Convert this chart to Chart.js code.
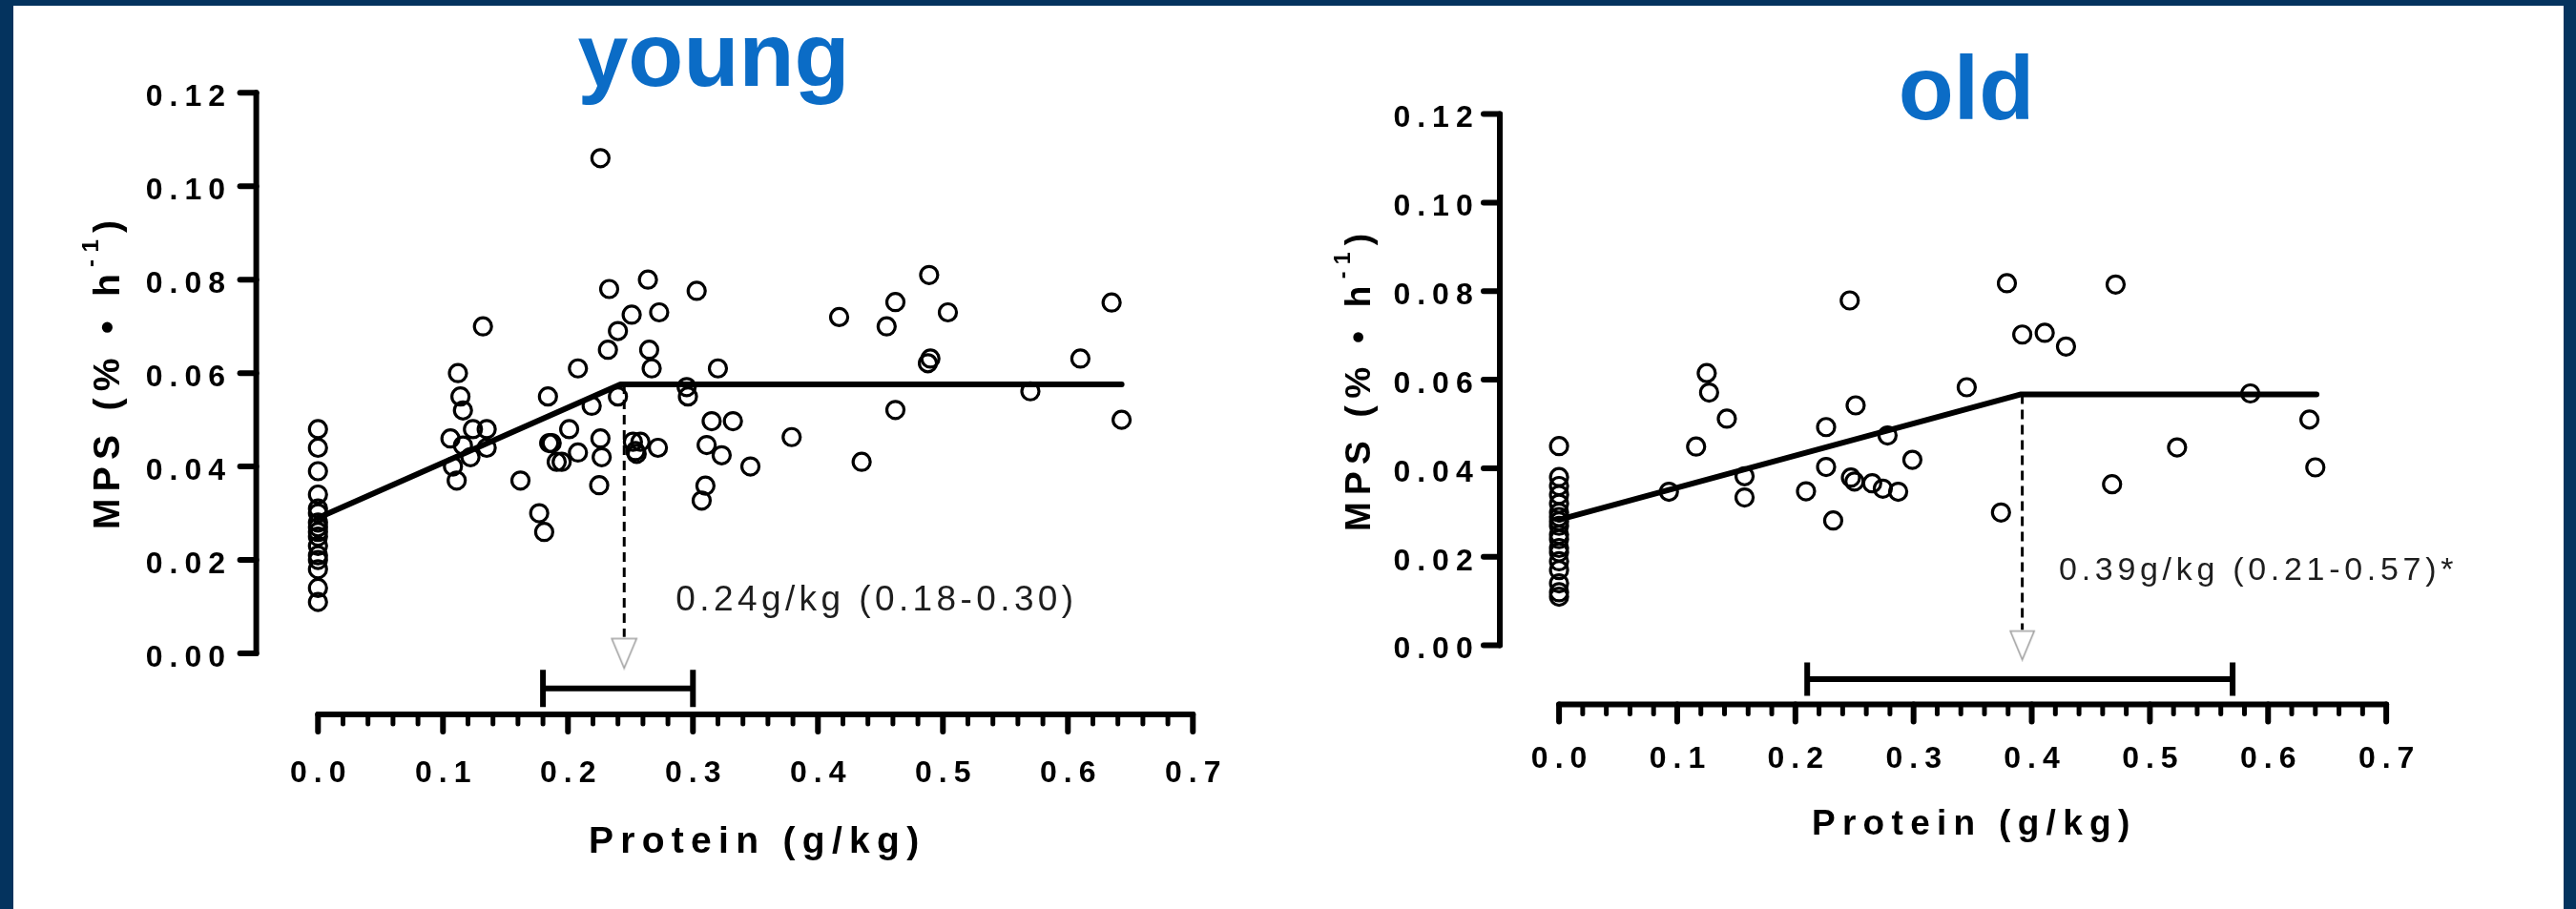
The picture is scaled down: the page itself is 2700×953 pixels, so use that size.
<!DOCTYPE html>
<html><head><meta charset="utf-8">
<script src="https://cdn.jsdelivr.net/npm/chart.js@4.4.1/dist/chart.umd.min.js"></script>
<style>
html,body{margin:0;padding:0;background:#fff;}
body{width:2700px;height:953px;position:relative;overflow:hidden;}
.frame{position:absolute;background:#04335e;}
canvas{position:absolute;top:0;}
</style></head><body>
<div class="frame" style="left:0;top:0;width:2700px;height:6px"></div>
<div class="frame" style="left:0;top:0;width:14px;height:953px"></div>
<div class="frame" style="right:0;top:0;width:13px;height:953px"></div>
<canvas id="cYoung" width="1350" height="953" style="left:0"></canvas>
<canvas id="cOld" width="1350" height="953" style="left:1350px"></canvas>
<script>
// ---------------- data ----------------
const yTickValues = [0, 0.02, 0.04, 0.06, 0.08, 0.10, 0.12];
const yTickLabels = ['0.00', '0.02', '0.04', '0.06', '0.08', '0.10', '0.12'];
const xTickValues = [0, 0.1, 0.2, 0.3, 0.4, 0.5, 0.6, 0.7];
const xTickLabels = ['0.0', '0.1', '0.2', '0.3', '0.4', '0.5', '0.6', '0.7'];
const xMinorTickValues = [0.02, 0.04, 0.06, 0.08, 0.12, 0.14, 0.16, 0.18, 0.22, 0.24, 0.26, 0.28,
  0.32, 0.34, 0.36, 0.38, 0.42, 0.44, 0.46, 0.48, 0.52, 0.54, 0.56, 0.58, 0.62, 0.64, 0.66, 0.68];

const panelTitles = ['young', 'old'];
const xAxisTitle = 'Protein (g/kg)';
const yAxisTitleMain = 'MPS (% \u2022 h';
const yAxisTitleSup = '-1';
const yAxisTitleEnd = ')';

const youngProtein = [0,0,0,0,0,0,0,0,0,0,0,0,0,0,0,0,
  0.132,0.112,0.114,0.116,0.124,0.135,0.106,0.116,0.135,0.122,0.108,0.111,
  0.162,0.177,0.181,0.184,0.185,0.187,0.191,0.195,0.201,0.208,
  0.208,0.219,0.226,0.227,0.225,0.226,0.232,0.233,0.240,0.240,
  0.251,0.252,0.258,0.254,0.255,0.264,0.265,0.267,0.273,0.272,
  0.295,0.296,0.303,0.320,0.315,0.332,0.311,0.323,0.346,0.310,
  0.307,0.379,0.417,0.455,0.462,0.462,0.435,0.489,0.504,0.490,
  0.488,0.635,0.610,0.570,0.643];
const youngMPS = [0.048,0.044,0.039,0.034,0.031,0.030,0.028,0.027,0.026,0.025,0.023,0.021,0.020,0.018,0.014,0.011,
  0.070,0.060,0.055,0.052,0.048,0.048,0.046,0.0445,0.044,0.042,0.040,0.037,
  0.037,0.030,0.026,0.055,0.045,0.045,0.041,0.041,0.048,0.043,
  0.061,0.053,0.046,0.042,0.036,0.106,0.065,0.078,0.069,0.055,
  0.0725,0.0453,0.0453,0.0433,0.0427,0.080,0.065,0.061,0.073,0.044,
  0.057,0.055,0.0776,0.061,0.0497,0.0497,0.0446,0.0424,0.040,0.0359,
  0.0327,0.0463,0.072,0.070,0.0752,0.0521,0.041,0.081,0.073,0.0631,
  0.0621,0.0751,0.0631,0.0561,0.050];
const youngFitX = [0, 0.242, 0.643];
const youngFitY = [0.029, 0.0576, 0.0576];
const youngBreakX = 0.245;
const youngCI = [0.18, 0.30];
const youngLabel = '0.24g/kg (0.18-0.30)';

const oldProtein = [0,0,0,0,0,0,0,0,0,0,0,0,0,0,0,0,0,0,
  0.093,0.116,0.125,0.127,0.142,0.157,0.157,0.209,0.226,0.226,
  0.232,0.246,0.247,0.250,0.251,0.265,0.274,0.278,0.287,0.299,
  0.345,0.374,0.379,0.392,0.411,0.429,0.468,0.471,0.523,0.585,
  0.635,0.640];
const oldMPS = [0.045,0.038,0.036,0.034,0.032,0.030,0.029,0.028,0.027,0.025,0.024,0.022,0.021,0.019,0.017,0.014,0.012,0.011,
  0.0347,0.0449,0.0615,0.0571,0.0512,0.0382,0.0334,0.0348,0.0493,0.0403,
  0.0282,0.0779,0.0379,0.037,0.0542,0.0366,0.0354,0.0474,0.0347,0.0419,
  0.0583,0.030,0.0818,0.0702,0.0706,0.0675,0.0364,0.0815,0.0447,0.0569,
  0.051,0.0402];
const oldFitX = [0, 0.391, 0.641];
const oldFitY = [0.0284, 0.0567, 0.0567];
const oldBreakX = 0.392;
const oldCI = [0.21, 0.57];
const oldLabel = '0.39g/kg (0.21-0.57)*';

// ---------------- rendering ----------------
const FONT = '"Liberation Sans", Arial, Helvetica, sans-serif';
const BLUE = '#0b6cc6';

function makeArrowHead(w, h) {
  const c = document.createElement('canvas');
  c.width = w + 4; c.height = h + 4;
  const g = c.getContext('2d');
  g.beginPath(); g.moveTo(2, 2); g.lineTo(w + 2, 2); g.lineTo(w / 2 + 2, h + 2); g.closePath();
  g.fillStyle = '#fff'; g.fill();
  g.strokeStyle = '#a0a0a0'; g.lineWidth = 1.6; g.stroke();
  return c;
}

function zip(xs, ys) { return xs.map((x, i) => ({x: x, y: ys[i]})); }

function makePanel(canvasId, P, d) {
  const W = 1350, H = 953;
  const xMin = (P.axisX - P.x0px) / P.xUnit;
  const xMax = 0.72;
  const right = P.x0px + xMax * P.xUnit;
  const yMax = 0.125;
  const top = P.y0px - yMax * P.yUnit;
  const yMin = (P.y0px - P.xAxisY) / P.yUnit;
  const xScaleH = 120;
  const arrow = makeArrowHead(P.arrowW, P.arrowH);

  const decor = {
    id: 'decor',
    beforeDraw(chart) { chart.ctx.letterSpacing = '7px'; },
    afterDraw(chart) {
      const ctx = chart.ctx, xs = chart.scales.x, ys = chart.scales.y, ca = chart.chartArea;
      ctx.save();
      ctx.letterSpacing = '0px';
      ctx.strokeStyle = '#000'; ctx.lineCap = 'round';
      // y axis line + ticks
      const ax = ca.left;
      ctx.lineWidth = 6;
      ctx.beginPath();
      ctx.moveTo(ax, ys.getPixelForValue(yTickValues[0]));
      ctx.lineTo(ax, ys.getPixelForValue(yTickValues[yTickValues.length - 1]));
      ctx.stroke();
      yTickValues.forEach(v => {
        const py = ys.getPixelForValue(v);
        ctx.beginPath(); ctx.moveTo(ax - 17, py); ctx.lineTo(ax, py); ctx.stroke();
      });
      // x axis line + ticks
      const ay = ca.bottom;
      ctx.beginPath();
      ctx.moveTo(xs.getPixelForValue(xTickValues[0]), ay);
      ctx.lineTo(xs.getPixelForValue(xTickValues[xTickValues.length - 1]), ay);
      ctx.stroke();
      xTickValues.forEach(v => {
        const px = xs.getPixelForValue(v);
        ctx.beginPath(); ctx.moveTo(px, ay); ctx.lineTo(px, ay + 18); ctx.stroke();
      });
      ctx.lineWidth = 5;
      xMinorTickValues.forEach(v => {
        const px = xs.getPixelForValue(v);
        ctx.beginPath(); ctx.moveTo(px, ay); ctx.lineTo(px, ay + 10); ctx.stroke();
      });

      // panel title
      ctx.fillStyle = BLUE;
      ctx.font = 'bold 95px ' + FONT;
      ctx.textAlign = 'center'; ctx.textBaseline = 'alphabetic';
      ctx.fillText(d.title, P.titleX, P.titleY);

      // x axis title
      ctx.fillStyle = '#000';
      ctx.font = 'bold ' + P.axTitleSize + 'px ' + FONT;
      ctx.letterSpacing = '7.3px';
      ctx.textAlign = 'left';
      let w = ctx.measureText(xAxisTitle).width - 7.3;
      ctx.fillText(xAxisTitle, P.xTitleX - w / 2, P.xTitleY);

      // y axis title (rotated, with superscript)
      ctx.save();
      ctx.translate(P.yTitleX, P.yTitleY);
      ctx.rotate(-Math.PI / 2);
      const mainFont = 'bold ' + P.axTitleSize + 'px ' + FONT;
      const supFont = 'bold ' + Math.round(P.axTitleSize * 0.62) + 'px ' + FONT;
      ctx.font = mainFont; const w1 = ctx.measureText(yAxisTitleMain).width;
      const w3 = ctx.measureText(yAxisTitleEnd).width;
      ctx.font = supFont; const w2 = ctx.measureText(yAxisTitleSup).width;
      const tot = w1 + w2 + w3 - 7.3;
      let x0 = -tot / 2;
      ctx.font = mainFont; ctx.fillText(yAxisTitleMain, x0, 0);
      ctx.font = supFont; ctx.fillText(yAxisTitleSup, x0 + w1, -P.axTitleSize * 0.56);
      ctx.font = mainFont; ctx.fillText(yAxisTitleEnd, x0 + w1 + w2, 0);
      ctx.restore();

      // annotation
      ctx.fillStyle = '#1e1e1e';
      ctx.font = P.noteSize + 'px ' + FONT;
      ctx.letterSpacing = P.noteSpacing + 'px';
      ctx.textAlign = 'left';
      ctx.fillText(d.label, xs.getPixelForValue(P.noteX), ys.getPixelForValue(P.noteY));
      ctx.restore();
    }
  };

  return new Chart(document.getElementById(canvasId), {
    type: 'scatter',
    data: {
      datasets: [
        { type: 'line', data: zip(d.fitX, d.fitY), borderColor: '#000', borderWidth: 6,
          pointRadius: 0, borderCapStyle: 'round', borderJoinStyle: 'round', fill: false, tension: 0 },
        { type: 'line', data: [{x: d.breakX, y: d.fitY[1]}, {x: d.breakX, y: 0.0035}], borderColor: '#000',
          borderWidth: 3, borderDash: [10, 6], pointRadius: 0, fill: false },
        { type: 'scatter', data: [{x: d.breakX, y: 0}], pointStyle: arrow, pointRadius: 15 },
        { type: 'line', data: [{x: d.ci[0], y: P.ciY}, {x: d.ci[1], y: P.ciY}], borderColor: '#000',
          borderWidth: 6, pointStyle: 'line', pointRadius: P.capR, pointRotation: 90,
          pointBorderWidth: 6, pointBorderColor: '#000', fill: false },
        { type: 'scatter', data: zip(d.xs, d.ys), pointStyle: 'circle', pointRadius: 9,
          pointBorderWidth: 3.2, pointBorderColor: '#000', pointBackgroundColor: 'rgba(0,0,0,0)',
          borderColor: '#000', backgroundColor: 'rgba(0,0,0,0)' }
      ]
    },
    options: {
      responsive: false, devicePixelRatio: 1, animation: false, events: [],
      layout: { padding: { left: 0, top: top, right: W - right, bottom: H - P.xAxisY - xScaleH } },
      plugins: { legend: { display: false }, tooltip: { enabled: false }, title: { display: false } },
      scales: {
        x: {
          type: 'linear', min: xMin, max: xMax, bounds: 'data',
          grid: { display: false, drawTicks: false }, border: { display: false },
          afterBuildTicks: s => { s.ticks = xTickValues.map(v => ({value: v})); },
          afterFit: s => { s.height = xScaleH; s.paddingLeft = 0; s.paddingRight = 0; s.paddingTop = 0; s.paddingBottom = 0; },
          ticks: { autoSkip: false, maxRotation: 0, padding: P.xLabelPad, labelOffset: 3.5, color: '#000',
            font: { family: FONT, size: 32, weight: 'bold' }, callback: (v, i) => xTickLabels[i] }
        },
        y: {
          type: 'linear', min: yMin, max: yMax, bounds: 'data',
          grid: { display: false, drawTicks: false }, border: { display: false },
          afterBuildTicks: s => { s.ticks = yTickValues.map(v => ({value: v})); },
          afterFit: s => { s.width = P.axisX; s.paddingLeft = 0; s.paddingRight = 0; s.paddingTop = 0; s.paddingBottom = 0; },
          ticks: { autoSkip: false, padding: P.yLabelPad, labelOffset: 5, color: '#000',
            font: { family: FONT, size: 32, weight: 'bold' }, callback: (v, i) => yTickLabels[i] }
        }
      }
    },
    plugins: [decor]
  });
}

makePanel('cYoung', {
  axisX: 268.6, x0px: 333.3, xUnit: 1310, y0px: 685, yUnit: 4897.5, xAxisY: 749,
  xLabelPad: 43, yLabelPad: 25.6,
  titleX: 748, titleY: 90, xTitleX: 790, xTitleY: 894, yTitleX: 124.8, yTitleY: 393, axTitleSize: 39,
  noteX: 0.2863, noteY: 0.0092, noteSize: 37, noteSpacing: 4.4,
  ciY: -0.0075, capR: 19.5, arrowW: 26, arrowH: 31
}, { title: panelTitles[0], xs: youngProtein, ys: youngMPS, fitX: youngFitX, fitY: youngFitY,
     breakX: youngBreakX, ci: youngCI, label: youngLabel });

makePanel('cOld', {
  axisX: 222, x0px: 284.1, xUnit: 1238.6, y0px: 676.6, yUnit: 4641.7, xAxisY: 738.6,
  xLabelPad: 38, yLabelPad: 21.3,
  titleX: 711, titleY: 124.6, xTitleX: 715.6, xTitleY: 875, yTitleX: 86, yTitleY: 401, axTitleSize: 37,
  noteX: 0.423, noteY: 0.0148, noteSize: 34, noteSpacing: 4.7,
  ciY: -0.0076, capR: 17.5, arrowW: 25, arrowH: 30
}, { title: panelTitles[1], xs: oldProtein, ys: oldMPS, fitX: oldFitX, fitY: oldFitY,
     breakX: oldBreakX, ci: oldCI, label: oldLabel });
</script>
</body></html>
